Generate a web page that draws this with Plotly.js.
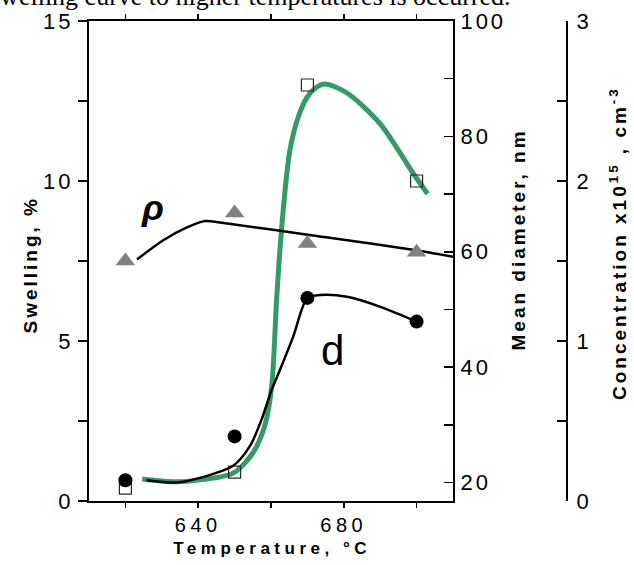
<!DOCTYPE html>
<html><head><meta charset="utf-8">
<script src="https://cdn.plot.ly/plotly-3.0.1.min.js"></script>
<style>
html,body{margin:0;padding:0;background:#fff;}
#chart{width:634px;height:565px;}
.xtick text{letter-spacing:4.5px;}
.ytick text,.y2tick text,.y3tick text{letter-spacing:3px;}
.annotation[data-index="0"] text,.annotation[data-index="1"] text,.annotation[data-index="2"] text{letter-spacing:3px;}
.annotation[data-index="3"] text{letter-spacing:4.5px;}
</style></head><body><div id="chart"></div>
<script>
// measured points
const temps = [620, 650, 670, 700];
const swelling = [0.4, 0.9, 13, 10];
const diameter = [20.4, 28, 52, 47.9];
const concentration = [1.5, 1.8, 1.61, 1.555];

// fitted swelling curve (green)
const swellFitT = [624.6, 634, 640.5, 649.6, 655, 658.4, 660.2, 661.6, 663.2, 665.2, 667.5, 669.8, 672.1, 674.8, 680.9, 689.9, 699, 703];
const swellFitV = [0.69, 0.6, 0.66, 0.87, 1.5, 2.4, 3.6, 6.4, 8.9, 10.97, 12.0, 12.6, 12.9, 13.03, 12.75, 11.8, 10.25, 9.6];

// diameter curve (black, d)
const diamFitT = [625.8, 634, 640.5, 649.6, 654.2, 657.4, 660.2, 662.5, 666.1, 670, 673.5, 680.9, 689.9, 700];
const diamFitV = [20.4, 20.0, 20.8, 22.9, 26.3, 30.9, 36.1, 39.6, 45.3, 52.0, 52.5, 52.2, 50.5, 47.9];

// concentration curve (black, rho)
const concFitT = [623.2, 630.4, 636.9, 641.9, 646, 671.5, 699, 710];
const concFitV = [1.51, 1.63, 1.71, 1.75, 1.74, 1.66, 1.57, 1.526];

const FONT = 'Liberation Sans, Arial, sans-serif';
const GREEN = 'rgb(52,155,104)';

const traces = [
  {x: concFitT, y: concFitV, yaxis: 'y3', mode: 'lines', line: {color: 'black', width: 2.5, shape: 'spline', smoothing: 0.8}, hoverinfo: 'skip'},
  {x: swellFitT, y: swellFitV, yaxis: 'y', mode: 'lines', line: {color: GREEN, width: 5, shape: 'spline', smoothing: 0.8}, hoverinfo: 'skip'},
  {x: diamFitT, y: diamFitV, yaxis: 'y2', mode: 'lines', line: {color: 'black', width: 2.5, shape: 'spline', smoothing: 0.8}, hoverinfo: 'skip'},
  {x: temps, y: concentration, yaxis: 'y3', mode: 'markers', marker: {symbol: 'triangle-up', size: 17, color: 'rgb(128,128,128)', line: {width: 0}}, cliponaxis: false},
  {x: temps, y: swelling, yaxis: 'y', mode: 'markers', marker: {symbol: 'square-open', size: 12, color: 'rgb(40,40,40)', line: {width: 1.2}}, cliponaxis: false},
  {x: temps, y: diameter, yaxis: 'y2', mode: 'markers', marker: {symbol: 'circle', size: 14, color: 'black'}, cliponaxis: false}
];

const axisCommon = {showline: true, linewidth: 2, linecolor: 'black', showgrid: false, zeroline: false, tickwidth: 1.5, tickcolor: 'black', tickfont: {family: FONT, size: 22, color: 'black'}, fixedrange: true};

const annBase = {xref: 'paper', yref: 'paper', showarrow: false, xanchor: 'center', yanchor: 'middle'};

const layout = {
  width: 634, height: 565,
  margin: {l: 0, r: 0, t: 21, b: 64},
  paper_bgcolor: 'white', plot_bgcolor: 'white',
  showlegend: false,
  font: {family: FONT, color: 'black'},
  xaxis: Object.assign({}, axisCommon, {domain: [89/634, 453/634], range: [610, 710], tickvals: [620, 640, 660, 680, 700], ticktext: ['', '640', '', '680', ''], ticks: 'outside', ticklen: 5, mirror: 'ticks', tickfont: {family: FONT, size: 20, color: 'black'}}),
  yaxis: Object.assign({}, axisCommon, {range: [0, 15], tickvals: [0, 2.5, 5, 7.5, 10, 12.5, 15], ticktext: ['0', '', '5', '', '10', '', '15'], ticks: 'outside', ticklen: 9, anchor: 'x', side: 'left'}),
  yaxis2: Object.assign({}, axisCommon, {overlaying: 'y', side: 'right', anchor: 'x', range: [16.8, 100], tickvals: [20, 30, 40, 50, 60, 70, 80, 90, 100], ticktext: ['20', '', '40', '', '60', '', '80', '', '100'], ticks: 'inside', ticklen: 9, ticklabelstandoff: 1}),
  yaxis3: Object.assign({}, axisCommon, {overlaying: 'y', side: 'right', anchor: 'free', position: 567/634, range: [0, 3], tickvals: [0, 0.5, 1, 1.5, 2, 2.5, 3], ticktext: ['0', '', '1', '', '2', '', '3'], ticks: 'inside', ticklen: 9, ticklabelstandoff: 4}),
  annotations: [
    Object.assign({}, annBase, {text: '<b>Swelling, %</b>', x: 30/634, y: (501-265)/480, textangle: -90, font: {family: FONT, size: 19, color: 'black'}}),
    Object.assign({}, annBase, {text: '<b>Mean diameter, nm</b>', x: 518/634, y: (501-240)/480, textangle: -90, font: {family: FONT, size: 19, color: 'black'}}),
    Object.assign({}, annBase, {text: '<b>Concentration x10<sup>15</sup> , cm<sup>-3</sup></b>', x: 618/634, y: (501-243)/480, textangle: -90, font: {family: FONT, size: 19, color: 'black'}}),
    Object.assign({}, annBase, {text: '<b>Temperature, °C</b>', x: 272/634, y: (501-548)/480, font: {family: FONT, size: 17, color: 'black'}}),
    Object.assign({}, annBase, {text: '<b><i>ρ</i></b>', x: 152/634, y: (501-208)/480, font: {family: FONT, size: 36, color: 'black'}}),
    Object.assign({}, annBase, {text: 'd', x: 332/634, y: (501-350)/480, font: {family: FONT, size: 42, color: 'black'}}),
    Object.assign({}, annBase, {text: 'swelling curve to higher temperatures is occurred.', xanchor: 'right', x: 513/634, y: 505/480, font: {family: 'Liberation Serif, Times New Roman, serif', size: 26, color: 'black'}})
  ]
};

Plotly.newPlot('chart', traces, layout, {staticPlot: true, displayModeBar: false});
</script>
</body></html>
